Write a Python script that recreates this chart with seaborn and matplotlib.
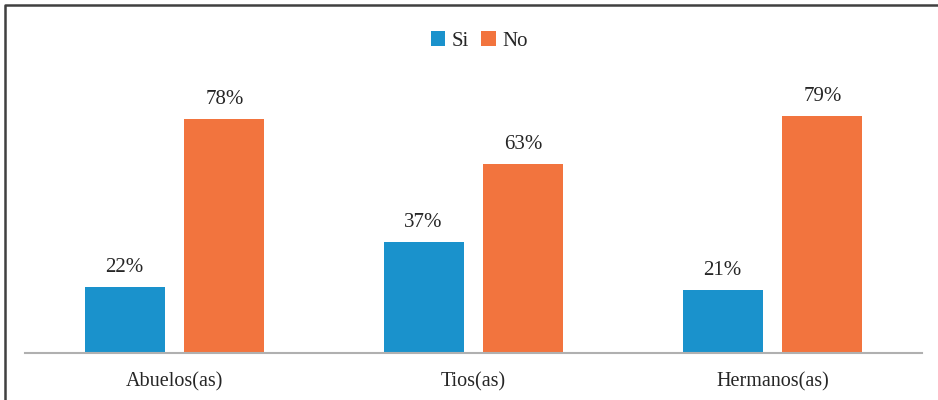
import matplotlib
matplotlib.use("Agg")
import matplotlib.pyplot as plt
from matplotlib.lines import Line2D
from matplotlib.patches import Patch
import seaborn as sns
import pandas as pd

categories = ["Abuelos(as)", "Tios(as)", "Hermanos(as)"]
series_names = ["Si", "No"]
si_values = [22, 37, 21]
no_values = [78, 63, 79]
colors = ["#1A92CC", "#F2743E"]

df = pd.DataFrame({
    "categoria": categories * 2,
    "respuesta": [series_names[0]] * 3 + [series_names[1]] * 3,
    "valor": si_values + no_values,
})

sns.set_theme(style="white")
plt.rcParams["font.family"] = ["Liberation Serif", "DejaVu Serif"]

W, H = 938, 400
fig = plt.figure(figsize=(W / 100, H / 100), dpi=100)
ax = fig.add_axes([25 / W, 47 / H, (922 - 25) / W, 270 / H])

sns.barplot(data=df, x="categoria", y="valor", hue="respuesta",
            hue_order=series_names, palette=colors, order=categories,
            width=0.667, gap=0.2, saturation=1, ax=ax, legend=False,
            edgecolor="none")

ax.set_xlim(-0.5, 2.5)
ax.set_ylim(0, 90)
ax.set_xlabel("")
ax.set_ylabel("")
ax.set_yticks([])
for s in ["top", "right", "left"]:
    ax.spines[s].set_visible(False)
ax.spines["bottom"].set_color("#B0B0B0")
ax.spines["bottom"].set_linewidth(1.5)
ax.tick_params(axis="x", length=0, pad=14, labelsize=14.5, colors="#262626")

for container in ax.containers:
    ax.bar_label(container, labels=[f"{v:.0f}%" for v in container.datavalues],
                 padding=7, fontsize=15, color="#262626")

handles = [Patch(facecolor=c, edgecolor="none") for c in colors]
fig.legend(handles, series_names, loc="center", bbox_to_anchor=(479 / W, 1 - 41 / H),
           ncol=2, frameon=False, fontsize=15, handlelength=0.7, handleheight=0.7,
           handletextpad=0.3, columnspacing=0.6, labelcolor="#262626")

# frame edges along the left and top of the figure
fig.add_artist(Line2D([5 / W, 5 / W, 1.0], [0.0, 1 - 5 / H, 1 - 5 / H],
                      transform=fig.transFigure, color="#404040", linewidth=1.8))

fig.savefig("out.png", dpi=100, facecolor="white")
